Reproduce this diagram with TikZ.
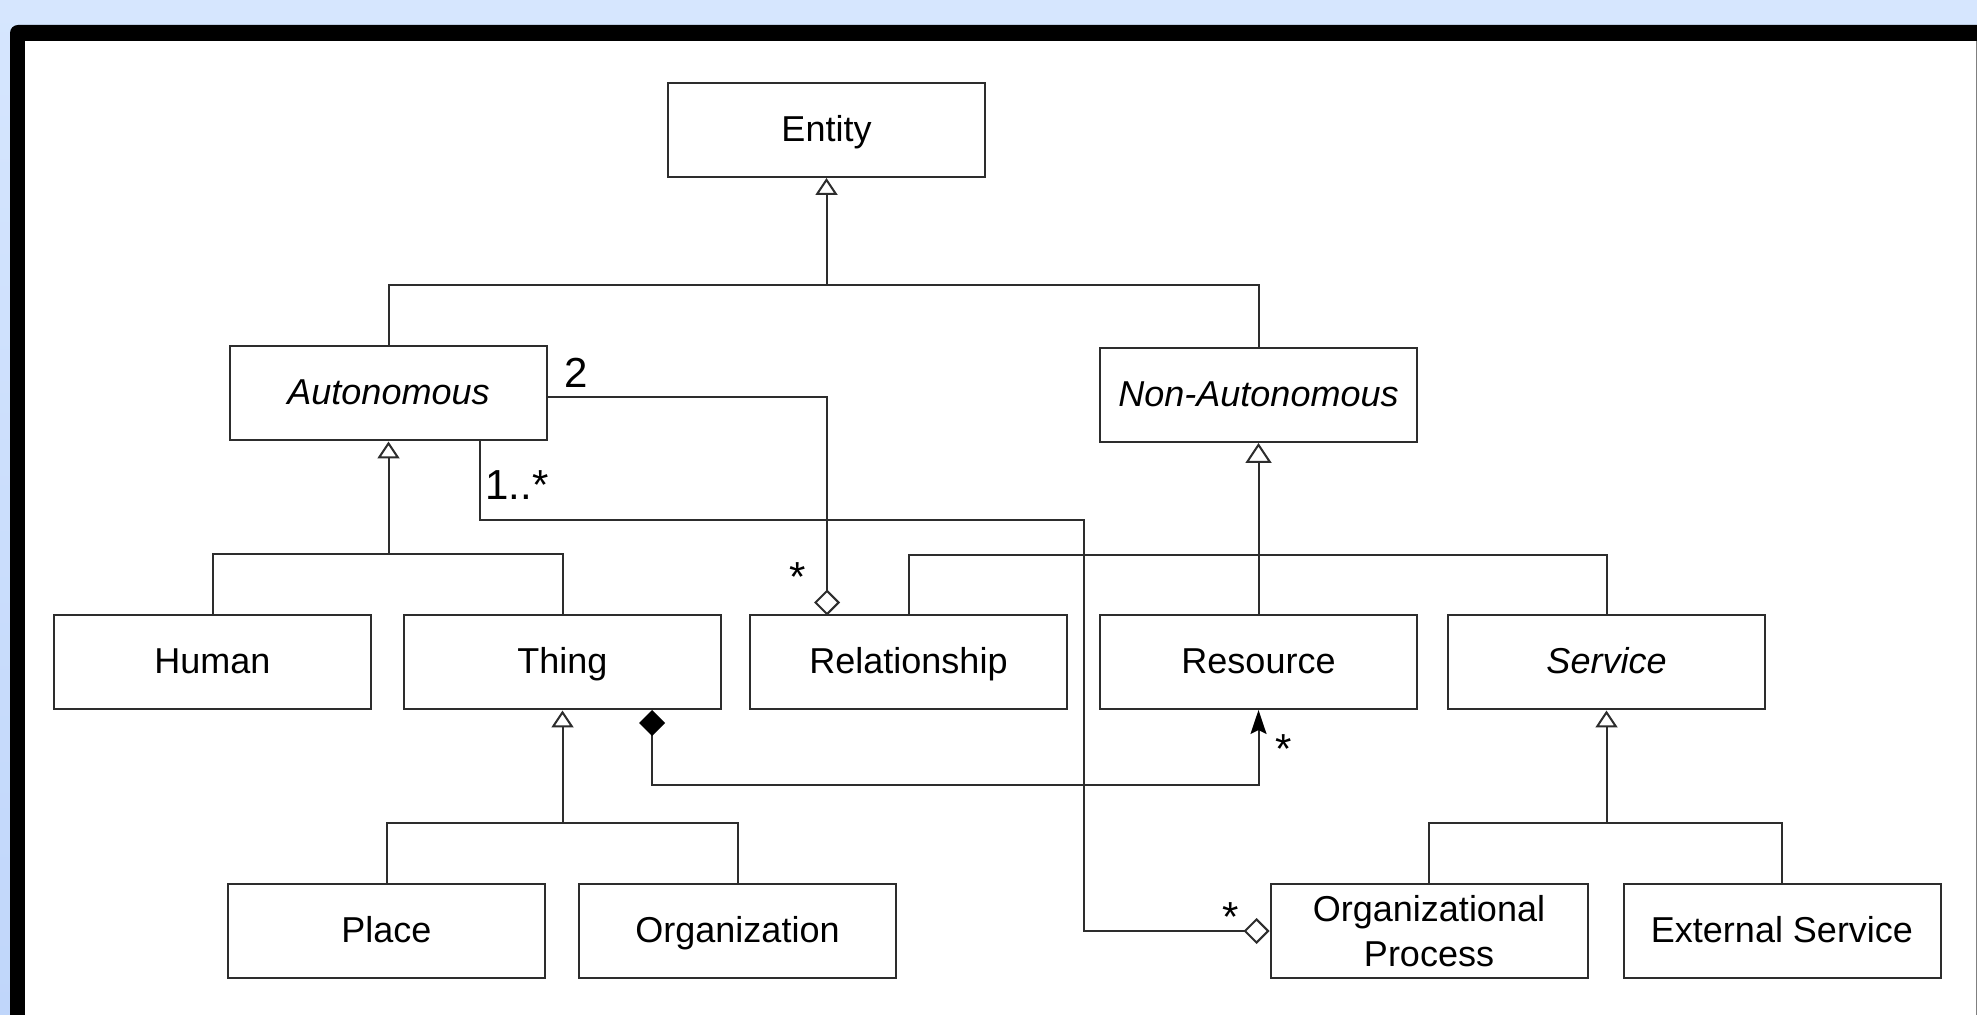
\documentclass[tikz,border=0pt]{standalone}
\usepackage{fontspec}
\setmainfont{Liberation Sans}
\usetikzlibrary{arrows.meta}
\definecolor{bgtop}{RGB}{214,230,254}
\definecolor{bgbot}{RGB}{192,214,250}
\definecolor{ln}{RGB}{45,45,45}
\begin{document}
\begin{tikzpicture}[x=0.5pt,y=-0.5pt,
  cls/.style={draw=ln, line width=1pt, fill=white, minimum width=158.5pt, minimum height=47pt,
    inner sep=0pt, font=\fontsize{18}{22.5}\selectfont, text height=14.25pt, text depth=2.75pt},
  cls2/.style={draw=ln, line width=1pt, fill=white, minimum width=158.5pt, minimum height=47pt,
    inner sep=0pt, font=\fontsize{18}{22.5}\selectfont, align=center},
  conn/.style={draw=ln, line width=1pt},
  gen/.style={conn, -{Triangle[open, width=11pt, length=8.5pt]}},
  genbig/.style={conn, -{Triangle[open, width=13pt, length=10pt]}},
  aggstart/.style={conn, {Diamond[open, width=13pt, length=13pt]}-},
  aggend/.style={conn, -{Diamond[open, width=13pt, length=13pt]}},
  comp/.style={conn, {Diamond[black, width=13pt, length=13pt]}-{Stealth[black, width=8pt, length=12pt, inset=2pt]}},
  mult/.style={inner sep=0pt, anchor=base west, font=\fontsize{21}{25}\selectfont, text=black},
  star/.style={inner sep=0pt, anchor=base, font=\fontsize{21}{25}\selectfont, text=black}]
\clip (0,0) rectangle (1977,1015);
% background frame
\shade[top color=bgtop, bottom color=bgbot] (0,0) rectangle (1977,1015);
\fill[black, rounded corners=4pt] (10,25) rectangle (2040,1060);
\fill[white] (25,41) rectangle (1976,1060);
\draw[gray, line width=0.5pt] (1976,41) -- (1976,1015);

% classes
\node[cls] (entity) at (826.5,130) {Entity};
\node[cls] (auto) at (388.5,393.5) {\itshape Autonomous};
\node[cls] (nonauto) at (1258.5,395) {\itshape Non-Autonomous};
\node[cls] (human) at (212.5,662.5) {Human};
\node[cls] (thing) at (562.5,662.5) {Thing};
\node[cls] (rel) at (908.5,662.5) {Relationship};
\node[cls] (res) at (1258.5,662.5) {Resource};
\node[cls] (serv) at (1606.5,662.5) {\itshape Service};
\node[cls] (place) at (386.5,931) {Place};
\node[cls] (org) at (737.5,931) {Organization};
\node[cls2] (orgproc) at (1429,931) {Organizational\\Process};
\node[cls] (ext) at (1782,931) {External Service};

% generalization joints
\coordinate (g0) at (826.5,285);
\coordinate (g1) at (388.5,554);
\coordinate (g2) at (1258.5,555);
\coordinate (g3) at (562.5,823);
\coordinate (g4) at (1606.5,823);

\draw[conn] (auto.north) |- (g0) -| (nonauto.north);
\draw[gen] (g0) -- (entity.south);
\draw[conn] (human.north) |- (g1) -| (thing.north);
\draw[gen] (g1) -- (auto.south);
\draw[conn] (rel.north) |- (g2) -| (serv.north);
\draw[genbig] (res.north) -- (nonauto.south);
\draw[conn] (place.north) |- (g3) -| (org.north);
\draw[gen] (g3) -- (thing.south);
\draw[conn] (orgproc.north) |- (g4) -| (ext.north);
\draw[gen] (g4) -- (serv.south);

% aggregation Relationship -> Autonomous
\coordinate (relA) at (827,615.5);
\coordinate (autoE) at (548,397);
\draw[aggstart] (relA) |- (autoE);

% aggregation Organizational Process -> Autonomous
\coordinate (autoB) at (480,441);
\coordinate (bend) at (1084,520);
\draw[aggend] (autoB) |- (bend) |- (orgproc.west);

% composition Thing -> Resource
\coordinate (thingB) at (652,710);
\coordinate (resB) at (1258.5,710);
\coordinate (cbend) at (955,785);
\draw[comp] (thingB) |- (cbend) -| (resB);

% multiplicities
\node[mult] (m2) at (564,388) {2};
\node[mult] (m1) at (485,500) {1..*};
\node[star] (s1) at (798,592) {*};
\node[star] (s2) at (1231,931) {*};
\node[star] (s3) at (1284,764) {*};
\end{tikzpicture}
\end{document}
